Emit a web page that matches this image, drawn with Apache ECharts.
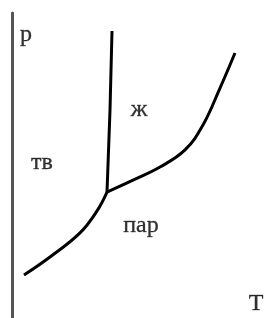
<!DOCTYPE html>
<html>
<head>
<meta charset="utf-8">
<script src="https://cdn.jsdelivr.net/npm/echarts@6/dist/echarts.min.js"></script>
<style>
  html, body { margin: 0; padding: 0; background: #fff; }
  #main { width: 265px; height: 318px; }
</style>
</head>
<body>
<div id="main"></div>
<script>
// phase diagram sketch, arbitrary units (T and p from 0 to 100)
var sublimT = [4.8, 15.2, 27.2, 34, 38];
var sublimP = [14.1, 20.0, 27.9, 35.1, 41.3];

var meltT = [38, 39.2, 40];
var meltP = [41.3, 68.2, 94.1];

var vaporT = [38, 48.4, 59.2, 69.2, 76.4, 83.2, 89.2];
var vaporP = [41.3, 45.2, 49.5, 55.1, 63.3, 75.4, 86.9];

var labelNames = ['р', 'ж', 'тв', 'пар', 'Т'];
var labelT = [5.6, 50.8, 12, 51.6, 97.6];
var labelP = [92.8, 68.2, 50.8, 30.2, 4.6];

function pairs(xs, ys) {
    return xs.map(function (x, i) { return [x, ys[i]]; });
}

var myChart = echarts.init(document.getElementById('main'));

var lineStyle = { color: '#000', width: 3 };

var option = {
    animation: false,
    grid: { left: 12, right: 3, top: 13, bottom: 0 },
    xAxis: {
        type: 'value', min: 0, max: 100,
        axisLine: { show: false }, axisTick: { show: false },
        axisLabel: { show: false }, splitLine: { show: false }
    },
    yAxis: {
        type: 'value', min: 0, max: 100,
        axisLine: { show: true, lineStyle: { color: '#555', width: 3 } },
        axisTick: { show: false },
        axisLabel: { show: false }, splitLine: { show: false }
    },
    series: [
        {
            type: 'line', data: pairs(sublimT, sublimP), smooth: 0.4,
            showSymbol: false, lineStyle: lineStyle
        },
        {
            type: 'line', data: pairs(meltT, meltP),
            showSymbol: false, lineStyle: lineStyle
        },
        {
            type: 'line', data: pairs(vaporT, vaporP), smooth: 0.4,
            showSymbol: false, lineStyle: lineStyle
        },
        {
            type: 'scatter', symbolSize: 0,
            data: labelNames.map(function (n, i) {
                return { name: n, value: [labelT[i], labelP[i]] };
            }),
            label: {
                show: true, position: 'inside',
                formatter: '{b}',
                fontFamily: 'Liberation Serif',
                fontSize: 24, color: '#000',
                textBorderColor: '#444', textBorderWidth: 0.4
            }
        }
    ]
};

option && myChart.setOption(option);
</script>
</body>
</html>
